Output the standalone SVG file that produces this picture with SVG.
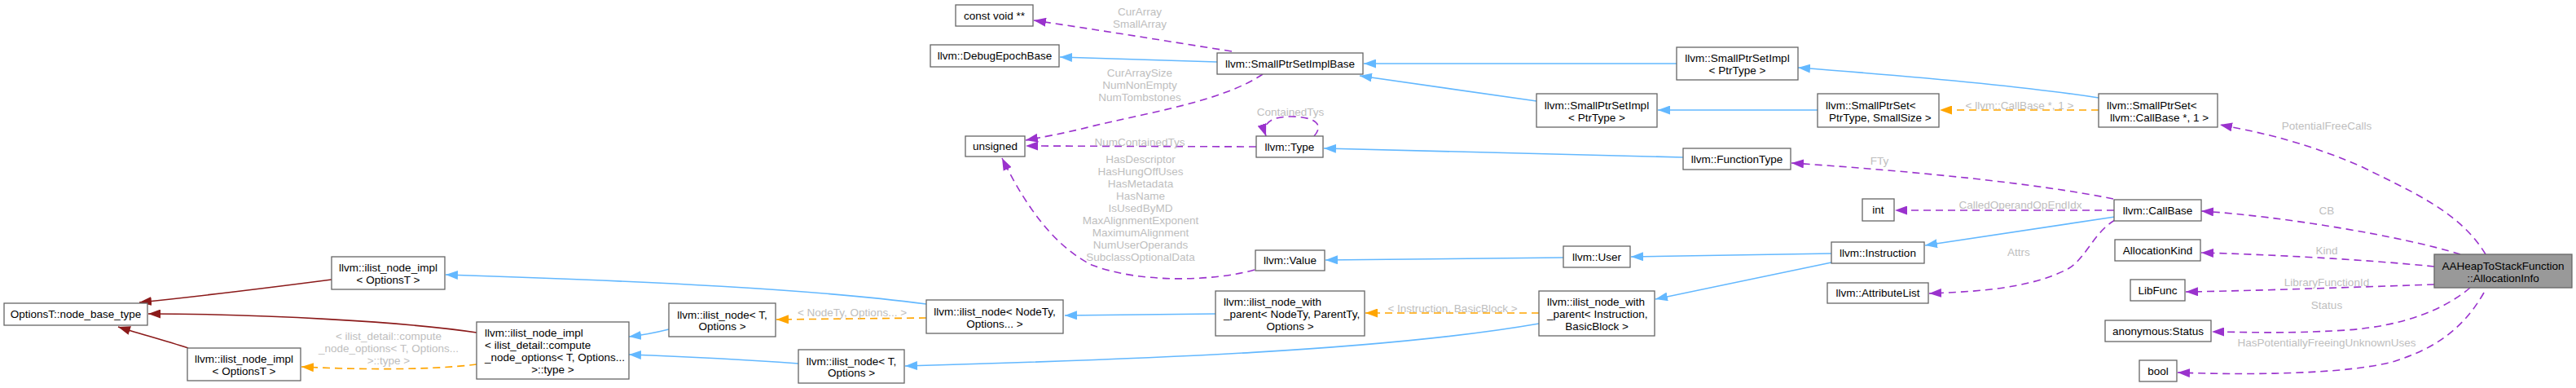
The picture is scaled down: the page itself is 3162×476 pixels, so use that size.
<svg xmlns="http://www.w3.org/2000/svg" width="3162" height="476" viewBox="0 0 3162 476">
<style>
.nd rect{fill:#fff;stroke:#666;stroke-width:1.3}
.nd.main rect{fill:#999}
.nd text{font-family:"Liberation Sans",Arial,Helvetica,sans-serif;font-size:13.5px;fill:#000;text-anchor:middle}
.nd text.l{text-anchor:start}
.lbl text{font-family:"Liberation Sans",Arial,Helvetica,sans-serif;font-size:13.5px;fill:#bebebe;text-anchor:middle}
.e path{fill:none;stroke-width:1.6}
.b{stroke:#63b8ff;marker-end:url(#ab)}
.p{stroke:#9a32cd;stroke-dasharray:9,6;marker-end:url(#ap)}
.o{stroke:#ffa500;stroke-dasharray:9,6;marker-end:url(#ao)}
.r{stroke:#8b1a1a;marker-end:url(#ar)}
</style>
<defs>
<marker id="ab" markerWidth="15" markerHeight="11" refX="15" refY="5.5" orient="auto" markerUnits="userSpaceOnUse"><path d="M0,0 L15,5.5 L0,11 z" fill="#63b8ff"/></marker>
<marker id="ap" markerWidth="15" markerHeight="11" refX="15" refY="5.5" orient="auto" markerUnits="userSpaceOnUse"><path d="M0,0 L15,5.5 L0,11 z" fill="#9a32cd"/></marker>
<marker id="ao" markerWidth="15" markerHeight="11" refX="15" refY="5.5" orient="auto" markerUnits="userSpaceOnUse"><path d="M0,0 L15,5.5 L0,11 z" fill="#ffa500"/></marker>
<marker id="ar" markerWidth="15" markerHeight="11" refX="15" refY="5.5" orient="auto" markerUnits="userSpaceOnUse"><path d="M0,0 L15,5.5 L0,11 z" fill="#8b1a1a"/></marker>
</defs>
<rect width="3162" height="476" fill="#fff"/>
<g id="connectors" class="e">
<path class="r" d="M407,343 C330,353 250,363 171,371"/>
<path class="r" d="M585,408 C500,395 320,385 182,385"/>
<path class="r" d="M231,427 C200,417 170,409 145,401"/>
<path class="o" d="M585,447 C520,455 430,453 370,450"/>
<path class="b" d="M1137,373 C1000,355 800,345 547,337"/>
<path class="b" d="M821,404 C805,408 790,411 772,413"/>
<path class="b" d="M980,446 C900,440 830,437 772,435"/>
<path class="o" d="M1137,390 L953,392"/>
<path class="b" d="M1492,385 L1307,387"/>
<path class="b" d="M1889,397 C1700,430 1400,441 1111,449"/>
<path class="p" d="M1540,331 C1490,345 1400,348 1340,325 C1290,300 1255,245 1230,194"/>
<path class="p" d="M1512,63 C1430,50 1350,37 1269,25"/>
<path class="b" d="M1494,76 L1301,70"/>
<path class="p" d="M1550,91 C1500,125 1400,140 1340,155 C1300,165 1280,168 1259,172"/>
<path class="p" d="M1542,180 L1259,179"/>
<path class="p" d="M1613,167 C1628,150 1608,143 1585,143 C1562,143 1548,150 1554,167"/>
<path class="b" d="M2058,78 L1674,78"/>
<path class="b" d="M1886,124 L1669,93"/>
<path class="b" d="M2231,135 L2035,135"/>
<path class="b" d="M2066,193 L1625,182"/>
<path class="o" d="M2576,135 L2381,135"/>
<path class="b" d="M2576,120 C2480,105 2300,90 2207,83"/>
<path class="p" d="M2594,244 C2500,225 2350,210 2199,200"/>
<path class="p" d="M2595,258 L2326,258"/>
<path class="b" d="M2596,266 L2363,301"/>
<path class="p" d="M2596,270 C2570,285 2560,318 2538,330 C2490,355 2420,358 2368,360"/>
<path class="b" d="M2248,311 L2002,315"/>
<path class="b" d="M2248,322 L2032,367"/>
<path class="b" d="M1919,316 L1627,319"/>
<path class="o" d="M1889,384 L1676,384"/>
<path class="p" d="M3051,312 C3020,260 2960,235 2900,205 C2820,170 2760,160 2725,153"/>
<path class="p" d="M3020,312 C2950,290 2800,265 2702,259"/>
<path class="p" d="M2988,327 C2900,318 2780,312 2702,310"/>
<path class="p" d="M2988,349 C2900,352 2760,357 2683,358"/>
<path class="p" d="M3032,353 C3000,380 2950,400 2880,405 C2800,410 2750,407 2715,407"/>
<path class="p" d="M3049,359 C3020,410 2980,430 2940,443 C2880,460 2750,460 2673,457"/>
</g>
<g id="labels" class="lbl">
<text x="1399" y="19">CurArray</text>
<text x="1399" y="34">SmallArray</text>
<text x="1399" y="94">CurArraySize</text>
<text x="1399" y="109">NumNonEmpty</text>
<text x="1399" y="124">NumTombstones</text>
<text x="1399" y="179">NumContainedTys</text>
<text x="1584" y="142">ContainedTys</text>
<text x="1400" y="200">HasDescriptor</text>
<text x="1400" y="215">HasHungOffUses</text>
<text x="1400" y="230">HasMetadata</text>
<text x="1400" y="245">HasName</text>
<text x="1400" y="260">IsUsedByMD</text>
<text x="1400" y="275">MaxAlignmentExponent</text>
<text x="1400" y="290">MaximumAlignment</text>
<text x="1400" y="305">NumUserOperands</text>
<text x="1400" y="320">SubclassOptionalData</text>
<text x="1046" y="388">&lt; NodeTy, Options... &gt;</text>
<text x="477" y="417">&lt; ilist_detail::compute</text>
<text x="477" y="432">_node_options&lt; T, Options...</text>
<text x="477" y="447">&gt;::type &gt;</text>
<text x="1783" y="383">&lt; Instruction, BasicBlock &gt;</text>
<text x="2479" y="134">&lt; llvm::CallBase *, 1 &gt;</text>
<text x="2307" y="202">FTy</text>
<text x="2480" y="256">CalledOperandOpEndIdx</text>
<text x="2478" y="314">Attrs</text>
<text x="2856" y="159">PotentialFreeCalls</text>
<text x="2856" y="263">CB</text>
<text x="2856" y="312">Kind</text>
<text x="2856" y="351">LibraryFunctionId</text>
<text x="2856" y="379">Status</text>
<text x="2856" y="425">HasPotentiallyFreeingUnknownUses</text>
</g>
<g id="n_optbase" class="nd"><rect x="5" y="372" width="176" height="27"/><text x="93" y="390">OptionsT::node_base_type</text></g>
<g id="n_impl_top" class="nd"><rect x="407" y="315" width="139" height="40"/><text x="476.5" y="333">llvm::ilist_node_impl</text><text x="476.5" y="348">&lt; OptionsT &gt;</text></g>
<g id="n_impl_bot" class="nd"><rect x="230" y="427" width="139" height="40"/><text x="299.5" y="445">llvm::ilist_node_impl</text><text x="299.5" y="460">&lt; OptionsT &gt;</text></g>
<g id="n_impl_big" class="nd"><rect x="585" y="395" width="187" height="70"/><text class="l" x="595" y="413">llvm::ilist_node_impl</text><text class="l" x="595" y="428">&lt; ilist_detail::compute</text><text class="l" x="595" y="443">_node_options&lt; T, Options...</text><text x="678.5" y="458">&gt;::type &gt;</text></g>
<g id="n_ilist_T_up" class="nd"><rect x="821" y="372" width="131" height="41"/><text x="886.5" y="391">llvm::ilist_node&lt; T,</text><text x="886.5" y="405">Options &gt;</text></g>
<g id="n_ilist_NodeTy" class="nd"><rect x="1137" y="368" width="168" height="41"/><text x="1221" y="387">llvm::ilist_node&lt; NodeTy,</text><text x="1221" y="402">Options... &gt;</text></g>
<g id="n_ilist_T_low" class="nd"><rect x="980" y="429" width="130" height="41"/><text x="1045" y="448">llvm::ilist_node&lt; T,</text><text x="1045" y="462">Options &gt;</text></g>
<g id="n_unsigned" class="nd"><rect x="1185" y="167" width="73" height="25"/><text x="1221.5" y="184">unsigned</text></g>
<g id="n_constvoid" class="nd"><rect x="1173" y="6" width="95" height="26"/><text x="1220.5" y="24">const void **</text></g>
<g id="n_debugepoch" class="nd"><rect x="1142" y="55" width="158" height="27"/><text x="1221" y="73">llvm::DebugEpochBase</text></g>
<g id="n_smallbase" class="nd"><rect x="1494" y="65" width="179" height="26"/><text x="1583.5" y="83">llvm::SmallPtrSetImplBase</text></g>
<g id="n_type" class="nd"><rect x="1542" y="167" width="82" height="26"/><text x="1583" y="185">llvm::Type</text></g>
<g id="n_value" class="nd"><rect x="1541" y="307" width="85" height="25"/><text x="1583.5" y="324">llvm::Value</text></g>
<g id="n_iwp_generic" class="nd"><rect x="1492" y="357" width="183" height="55"/><text class="l" x="1502" y="375">llvm::ilist_node_with</text><text class="l" x="1502" y="390">_parent&lt; NodeTy, ParentTy,</text><text x="1583.5" y="405">Options &gt;</text></g>
<g id="n_user" class="nd"><rect x="1919" y="302" width="82" height="26"/><text x="1960" y="320">llvm::User</text></g>
<g id="n_iwp_inst" class="nd"><rect x="1889" y="357" width="142" height="55"/><text class="l" x="1899" y="375">llvm::ilist_node_with</text><text class="l" x="1899" y="390">_parent&lt; Instruction,</text><text x="1960" y="405">BasicBlock &gt;</text></g>
<g id="n_spsi_top" class="nd"><rect x="2058" y="58" width="149" height="40"/><text x="2132.5" y="76">llvm::SmallPtrSetImpl</text><text x="2132.5" y="91">&lt; PtrType &gt;</text></g>
<g id="n_spsi_mid" class="nd"><rect x="1886" y="115" width="148" height="41"/><text x="1960" y="134">llvm::SmallPtrSetImpl</text><text x="1960" y="149">&lt; PtrType &gt;</text></g>
<g id="n_sps_generic" class="nd"><rect x="2231" y="115" width="149" height="41"/><text class="l" x="2241" y="134">llvm::SmallPtrSet&lt;</text><text class="l" x="2245" y="149">PtrType, SmallSize &gt;</text></g>
<g id="n_sps_callbase" class="nd"><rect x="2576" y="115" width="146" height="41"/><text class="l" x="2586" y="134">llvm::SmallPtrSet&lt;</text><text class="l" x="2590" y="149">llvm::CallBase *, 1 &gt;</text></g>
<g id="n_functype" class="nd"><rect x="2066" y="182" width="132" height="26"/><text x="2132" y="200">llvm::FunctionType</text></g>
<g id="n_int" class="nd"><rect x="2286" y="244" width="39" height="27"/><text x="2305.5" y="262">int</text></g>
<g id="n_instruction" class="nd"><rect x="2248" y="297" width="114" height="26"/><text x="2305" y="315">llvm::Instruction</text></g>
<g id="n_attrlist" class="nd"><rect x="2243" y="347" width="124" height="25"/><text x="2305" y="364">llvm::AttributeList</text></g>
<g id="n_callbase" class="nd"><rect x="2595" y="245" width="107" height="26"/><text x="2648.5" y="263">llvm::CallBase</text></g>
<g id="n_allockind" class="nd"><rect x="2596" y="294" width="105" height="26"/><text x="2648.5" y="312">AllocationKind</text></g>
<g id="n_libfunc" class="nd"><rect x="2615" y="343" width="67" height="26"/><text x="2648.5" y="361">LibFunc</text></g>
<g id="n_status" class="nd"><rect x="2584" y="393" width="130" height="26"/><text x="2649" y="411">anonymous:Status</text></g>
<g id="n_bool" class="nd"><rect x="2626" y="442" width="46" height="26"/><text x="2649" y="460">bool</text></g>
<g id="n_allocinfo" class="nd main"><rect x="2988" y="312" width="169" height="41"/><text x="3072.5" y="331">AAHeapToStackFunction</text><text x="3072.5" y="346">::AllocationInfo</text></g>
</svg>
